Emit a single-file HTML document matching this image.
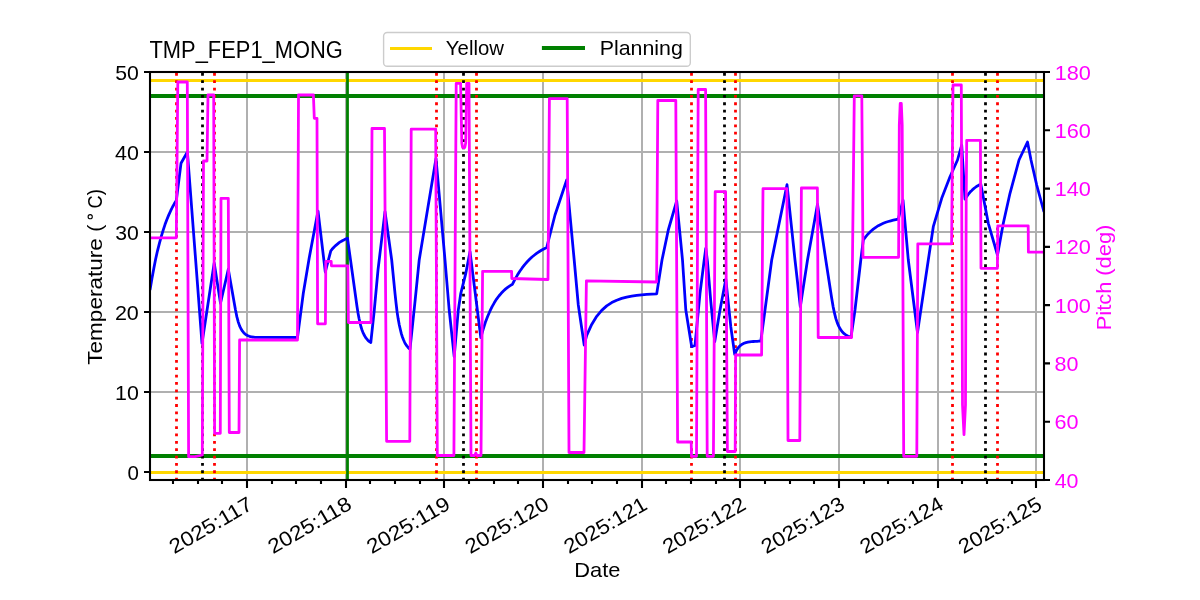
<!DOCTYPE html>
<html lang="en"><head><meta charset="utf-8"><title>TMP_FEP1_MONG</title>
<style>html,body{margin:0;padding:0;background:#fff;overflow:hidden}svg{display:block}.t{mix-blend-mode:multiply}text{font-family:"Liberation Sans",sans-serif;fill:#000}</style></head><body>
<svg width="1200" height="600" viewBox="0 0 1200 600">
<rect width="1200" height="600" fill="#fff"/>
<defs><clipPath id="c"><rect x="150" y="72" width="894" height="408"/></clipPath></defs>
<g clip-path="url(#c)" fill="none">
<path d="M247 72V480M346 72V480M444 72V480M543 72V480M642 72V480M740 72V480M839 72V480M938 72V480M1036 72V480M150 472H1044M150 392H1044M150 312H1044M150 232H1044M150 152H1044" stroke="#b0b0b0" stroke-width="2.0"/>
<path d="M150 80.5H1044M150 472.5H1044" stroke="#ffd700" stroke-width="2.78"/>
<path d="M150 96H1044M150 456H1044" stroke="#008000" stroke-width="4.17"/>
<path d="M347.5 72V480" stroke="#008000" stroke-width="2.78"/>
<path d="M176.5 480.5V72M214.5 480.5V72M436.5 480.5V72M476.5 480.5V72M691.5 480.5V72M735.5 480.5V72M952.5 480.5V72M997.5 480.5V72" stroke="#ff0000" stroke-width="2.78" stroke-dasharray="2.78 4.58"/>
<path d="M202.5 480.5V72M463.5 480.5V72M724.5 480.5V72M985.5 480.5V72" stroke="#000" stroke-width="2.78" stroke-dasharray="2.78 4.58"/>
<path d="M150.0 290.0 L151.9 278.7 L153.8 268.5 L155.6 259.2 L157.5 250.8 L159.4 243.3 L161.3 236.4 L163.2 230.2 L165.0 224.6 L166.9 219.5 L168.8 214.9 L170.7 210.7 L172.5 207.0 L174.4 203.6 L176.3 200.5 L181.0 163.3 L187.4 152.0 L202.0 343.3 L214.2 263.0 L220.5 303.3 L228.3 269.2 L235.5 310.0 L236.9 316.9 L238.3 322.1 L239.7 326.1 L241.1 329.0 L242.5 331.2 L243.9 332.9 L245.2 334.1 L246.6 335.1 L248.0 335.8 L249.4 336.3 L250.8 336.7 L252.2 337.0 L253.6 337.2 L255.0 337.4 L297.5 337.5 L303.3 293.3 L309.2 258.0 L318.0 211.0 L325.3 272.0 L330.8 250.8 L332.0 249.3 L333.2 248.0 L334.4 246.7 L335.6 245.6 L336.8 244.6 L338.0 243.6 L339.1 242.7 L340.3 241.9 L341.5 241.2 L342.7 240.5 L343.9 239.9 L345.1 239.3 L346.3 238.8 L347.5 238.3 L357.0 306.5 L358.0 312.9 L359.0 318.3 L360.0 322.8 L360.9 326.5 L361.9 329.7 L362.9 332.3 L363.9 334.5 L364.9 336.3 L365.9 337.9 L366.9 339.1 L367.8 340.2 L368.8 341.1 L369.8 341.9 L370.8 342.5 L374.2 311.0 L378.0 270.0 L385.0 211.7 L391.7 260.0 L395.0 293.3 L396.1 303.5 L397.1 312.0 L398.2 319.1 L399.3 325.0 L400.4 329.8 L401.4 333.9 L402.5 337.2 L403.6 340.0 L404.6 342.3 L405.7 344.3 L406.8 345.9 L407.9 347.2 L408.9 348.3 L410.0 349.2 L415.0 301.7 L419.2 260.0 L436.0 158.5 L445.0 260.0 L449.2 310.0 L454.2 356.7 L458.3 310.0 L460.8 293.3 L465.8 273.3 L470.0 251.7 L474.2 285.0 L480.8 337.5 L483.1 329.5 L485.3 322.6 L487.6 316.5 L489.9 311.2 L492.1 306.6 L494.4 302.6 L496.6 299.1 L498.9 296.0 L501.2 293.3 L503.4 291.0 L505.7 288.9 L508.0 287.1 L510.2 285.6 L512.5 284.2 L514.9 279.4 L517.4 275.1 L519.8 271.2 L522.3 267.7 L524.7 264.6 L527.2 261.8 L529.6 259.3 L532.0 257.0 L534.5 255.0 L536.9 253.1 L539.4 251.5 L541.8 250.0 L544.3 248.7 L546.7 247.5 L555.0 215.0 L566.7 180.0 L574.2 260.0 L578.3 305.0 L584.2 345.0 L586.7 335.3 L591.7 324.4 L596.7 316.3 L601.7 310.4 L606.7 305.9 L611.7 302.6 L616.7 300.2 L621.7 298.4 L626.7 297.1 L631.7 296.1 L636.7 295.4 L641.7 294.8 L646.7 294.4 L651.7 294.1 L656.7 293.9 L662.0 260.0 L668.3 230.0 L676.7 200.8 L682.5 260.0 L685.8 310.0 L691.7 346.7 L695.0 345.5 L700.0 293.3 L704.2 260.0 L705.8 248.3 L707.5 262.0 L710.8 301.7 L714.7 341.7 L720.0 310.0 L725.8 279.2 L730.8 326.7 L734.7 354.2 L736.6 350.3 L738.4 347.5 L740.3 345.6 L742.2 344.2 L744.0 343.3 L745.9 342.6 L747.8 342.2 L749.6 341.9 L751.5 341.6 L753.3 341.5 L755.2 341.4 L757.1 341.3 L758.9 341.2 L760.8 341.2 L765.0 310.0 L771.7 260.0 L787.0 184.7 L795.0 260.0 L800.3 306.7 L807.5 260.0 L817.5 204.2 L825.8 260.0 L831.7 298.3 L833.1 306.6 L834.5 313.2 L835.8 318.4 L837.2 322.6 L838.6 325.9 L840.0 328.6 L841.4 330.7 L842.7 332.3 L844.1 333.7 L845.5 334.7 L846.9 335.6 L848.2 336.2 L849.6 336.8 L851.0 337.2 L855.0 310.0 L860.8 260.0 L863.3 240.0 L865.8 236.6 L868.3 233.7 L870.8 231.2 L873.3 229.1 L875.8 227.3 L878.3 225.7 L880.8 224.4 L883.3 223.3 L885.8 222.3 L888.3 221.5 L890.8 220.8 L893.3 220.2 L895.8 219.6 L898.3 219.2 L903.0 200.0 L908.3 260.0 L917.5 332.5 L928.3 260.0 L933.3 226.7 L941.7 198.3 L950.0 176.7 L957.5 160.0 L961.7 145.0 L965.0 199.2 L966.1 197.4 L967.3 195.7 L968.4 194.2 L969.5 192.8 L970.6 191.5 L971.8 190.4 L972.9 189.3 L974.0 188.4 L975.2 187.5 L976.3 186.7 L977.4 186.0 L978.5 185.3 L979.7 184.7 L980.8 184.2 L988.3 223.3 L997.5 255.0 L1003.3 223.3 L1010.0 193.3 L1019.0 160.0 L1027.5 142.0 L1031.0 160.0 L1036.7 185.0 L1044.0 212.0" stroke="#0000ff" stroke-width="2.78" stroke-linejoin="round"/>
<path d="M150.0 237.8 L176.3 237.8 L177.8 82.0 L187.3 82.0 L188.6 456.7 L195.0 456.7 L202.3 455.0 L203.5 161.0 L207.0 161.0 L208.0 95.0 L213.7 95.0 L214.6 433.3 L220.3 433.3 L221.0 198.3 L228.3 198.3 L229.3 432.5 L239.0 432.5 L239.6 340.0 L297.5 340.0 L298.5 95.0 L313.4 95.0 L314.3 118.3 L317.0 118.3 L317.6 323.8 L325.4 323.8 L325.8 261.3 L331.2 261.3 L331.4 265.8 L347.8 265.8 L348.4 322.5 L371.0 322.5 L372.0 128.5 L384.5 128.5 L386.6 441.3 L409.8 441.3 L411.2 129.2 L435.7 129.2 L437.3 455.5 L453.9 455.5 L456.2 83.3 L460.6 83.3 L461.8 143.0 L462.6 147.5 L464.8 147.5 L465.7 143.0 L466.7 83.3 L469.0 83.3 L471.0 455.5 L474.6 455.5 L475.8 453.0 L477.0 455.5 L481.0 455.5 L482.6 271.3 L511.6 271.3 L511.8 278.5 L548.0 279.5 L549.4 98.7 L567.2 98.7 L569.0 452.5 L584.0 452.5 L586.4 280.8 L656.6 282.0 L657.8 100.5 L675.8 100.5 L677.6 442.0 L691.2 442.0 L691.5 456.3 L696.5 456.3 L698.2 89.5 L705.6 89.5 L707.2 456.3 L713.4 456.3 L715.2 191.7 L725.6 191.7 L727.4 451.5 L735.2 451.5 L735.6 355.0 L761.6 355.0 L763.0 188.7 L786.9 188.7 L788.0 440.5 L799.8 440.5 L801.4 188.0 L817.4 188.0 L818.2 337.5 L851.6 337.5 L854.3 95.8 L861.8 95.8 L863.0 257.3 L898.6 257.3 L899.3 125.0 L900.2 103.5 L901.3 103.5 L902.2 125.0 L902.8 257.0 L903.7 456.3 L916.8 456.3 L917.8 243.8 L951.6 243.8 L953.0 85.0 L961.3 85.0 L961.7 200.0 L962.5 405.0 L964.0 434.6 L965.5 405.0 L966.2 200.0 L966.7 140.3 L980.4 140.3 L981.0 268.3 L997.4 268.3 L997.8 225.8 L1028.2 225.8 L1028.4 252.2 L1044.0 252.2" stroke="#ff00ff" stroke-width="2.78" stroke-linejoin="round"/>
</g>
<rect x="150" y="72" width="894" height="408" fill="none" stroke="#000" stroke-width="2.08"/>
<path d="M247 480v7.9M346 480v7.9M444 480v7.9M543 480v7.9M642 480v7.9M740 480v7.9M839 480v7.9M938 480v7.9M1036 480v7.9M150 472.0h-6M150 392.0h-6M150 312.0h-6M150 232.0h-6M150 152.0h-6M150 72.0h-6" stroke="#000" stroke-width="2.08" fill="none"/>
<path d="M173 480v3.9M198 480v3.9M222 480v3.9M272 480v3.9M296 480v3.9M321 480v3.9M370 480v3.9M395 480v3.9M420 480v3.9M469 480v3.9M494 480v3.9M518 480v3.9M568 480v3.9M592 480v3.9M617 480v3.9M666 480v3.9M691 480v3.9M716 480v3.9M765 480v3.9M790 480v3.9M814 480v3.9M864 480v3.9M888 480v3.9M913 480v3.9M962 480v3.9M987 480v3.9M1012 480v3.9" stroke="#000" stroke-width="2.08" fill="none"/>
<path d="M1044 480.0h6M1044 421.7h6M1044 363.4h6M1044 305.1h6M1044 246.9h6M1044 188.6h6M1044 130.3h6M1044 72.0h6" stroke="#000" stroke-width="2.08" fill="none"/>
<rect x="383.6" y="32.5" width="306.7" height="33.8" rx="3.6" fill="#fff" fill-opacity="0.8" stroke="#cccccc" stroke-width="1.39"/>
<path d="M390 48.5H432" stroke="#ffd700" stroke-width="2.78"/>
<path d="M541.9 48H585" stroke="#008000" stroke-width="4.17"/>
<g class="t">
<text x="127.41" y="479.60" font-size="20.6" textLength="11.40" lengthAdjust="spacingAndGlyphs">0</text>
<text x="115.07" y="399.60" font-size="20.6" textLength="23.77" lengthAdjust="spacingAndGlyphs">10</text>
<text x="114.90" y="319.60" font-size="20.6" textLength="23.95" lengthAdjust="spacingAndGlyphs">20</text>
<text x="115.24" y="239.60" font-size="20.6" textLength="23.60" lengthAdjust="spacingAndGlyphs">30</text>
<text x="115.02" y="159.60" font-size="20.6" textLength="23.82" lengthAdjust="spacingAndGlyphs">40</text>
<text x="115.21" y="79.60" font-size="20.6" textLength="23.63" lengthAdjust="spacingAndGlyphs">50</text>
<text x="1054.66" y="487.60" font-size="20.6" textLength="23.82" lengthAdjust="spacingAndGlyphs" style="fill:#ff00ff">40</text>
<text x="1054.46" y="429.31" font-size="20.6" textLength="24.03" lengthAdjust="spacingAndGlyphs" style="fill:#ff00ff">60</text>
<text x="1054.59" y="371.03" font-size="20.6" textLength="23.90" lengthAdjust="spacingAndGlyphs" style="fill:#ff00ff">80</text>
<text x="1054.68" y="312.74" font-size="20.6" textLength="36.18" lengthAdjust="spacingAndGlyphs" style="fill:#ff00ff">100</text>
<text x="1054.68" y="254.46" font-size="20.6" textLength="36.18" lengthAdjust="spacingAndGlyphs" style="fill:#ff00ff">120</text>
<text x="1054.68" y="196.17" font-size="20.6" textLength="36.18" lengthAdjust="spacingAndGlyphs" style="fill:#ff00ff">140</text>
<text x="1054.68" y="137.89" font-size="20.6" textLength="36.18" lengthAdjust="spacingAndGlyphs" style="fill:#ff00ff">160</text>
<text x="1054.68" y="79.60" font-size="20.6" textLength="36.18" lengthAdjust="spacingAndGlyphs" style="fill:#ff00ff">180</text>
<text transform="translate(254.70 507.90) rotate(-30)" x="-92.82" y="0" font-size="20.6" textLength="92.27" lengthAdjust="spacingAndGlyphs">2025:117</text>
<text transform="translate(353.36 507.90) rotate(-30)" x="-92.82" y="0" font-size="20.6" textLength="92.45" lengthAdjust="spacingAndGlyphs">2025:118</text>
<text transform="translate(452.02 507.90) rotate(-30)" x="-92.82" y="0" font-size="20.6" textLength="92.50" lengthAdjust="spacingAndGlyphs">2025:119</text>
<text transform="translate(550.68 507.90) rotate(-30)" x="-92.82" y="0" font-size="20.6" textLength="92.39" lengthAdjust="spacingAndGlyphs">2025:120</text>
<text transform="translate(649.34 507.90) rotate(-30)" x="-92.81" y="0" font-size="20.6" textLength="92.10" lengthAdjust="spacingAndGlyphs">2025:121</text>
<text transform="translate(748.00 507.90) rotate(-30)" x="-92.81" y="0" font-size="20.6" textLength="91.98" lengthAdjust="spacingAndGlyphs">2025:122</text>
<text transform="translate(846.66 507.90) rotate(-30)" x="-92.82" y="0" font-size="20.6" textLength="92.23" lengthAdjust="spacingAndGlyphs">2025:123</text>
<text transform="translate(945.32 507.90) rotate(-30)" x="-92.82" y="0" font-size="20.6" textLength="92.38" lengthAdjust="spacingAndGlyphs">2025:124</text>
<text transform="translate(1043.98 507.90) rotate(-30)" x="-92.81" y="0" font-size="20.6" textLength="92.04" lengthAdjust="spacingAndGlyphs">2025:125</text>
<text x="574.21" y="577.00" font-size="20.6" textLength="46.16" lengthAdjust="spacingAndGlyphs">Date</text>
<text transform="translate(102.30 364.20) rotate(-90)" x="-0.50" y="0" font-size="20.6" textLength="140.23" lengthAdjust="spacingAndGlyphs">Temperature (</text>
<circle cx="90.2" cy="216.7" r="2.1" fill="none" stroke="#000" stroke-width="1.1"/>
<text transform="translate(102.30 364.20) rotate(-90)" x="155.77" y="0" font-size="20.6" textLength="19.26" lengthAdjust="spacingAndGlyphs">C)</text>
<text transform="translate(1111.00 330.40) rotate(-90)" x="0.11" y="0" font-size="20.6" textLength="105.65" lengthAdjust="spacingAndGlyphs" style="fill:#ff00ff">Pitch (deg)</text>
<text x="149.51" y="57.60" font-size="23.5" textLength="193.33" lengthAdjust="spacingAndGlyphs">TMP_FEP1_MONG</text>
<text x="445.87" y="54.70" font-size="20.2" textLength="58.09" lengthAdjust="spacingAndGlyphs">Yellow</text>
<text x="599.65" y="54.70" font-size="20.2" textLength="83.13" lengthAdjust="spacingAndGlyphs">Planning</text>
</g>
</svg></body></html>
